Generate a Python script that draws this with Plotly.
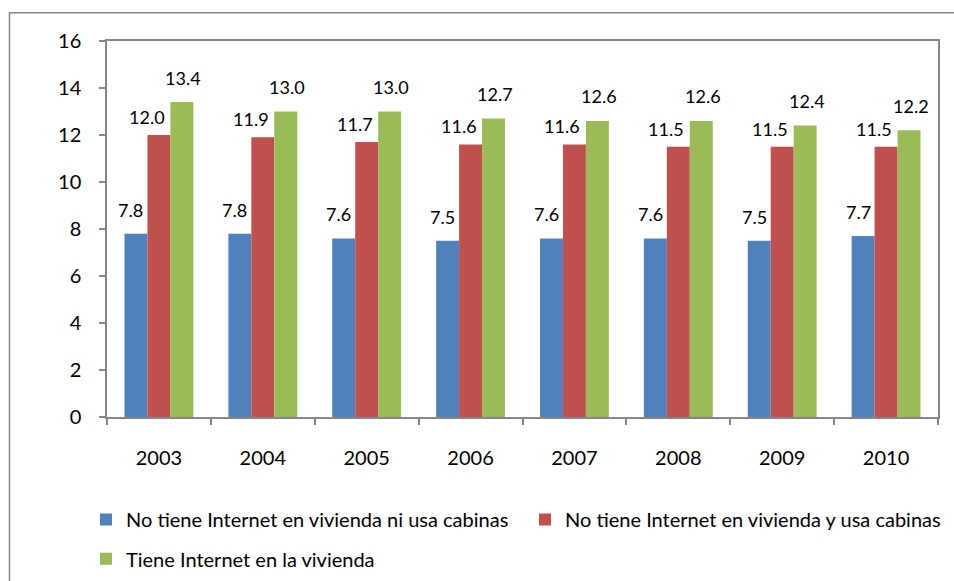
import plotly.graph_objects as go

# Data: share of population by internet access, 2003-2010
years = ["2003", "2004", "2005", "2006", "2007", "2008", "2009", "2010"]
sin_internet = [7.8, 7.8, 7.6, 7.5, 7.6, 7.6, 7.5, 7.7]
usa_cabinas = [12.0, 11.9, 11.7, 11.6, 11.6, 11.5, 11.5, 11.5]
con_internet = [13.4, 13.0, 13.0, 12.7, 12.6, 12.6, 12.4, 12.2]
series_names = [
    "No tiene Internet en vivienda ni usa cabinas",
    "No tiene Internet en vivienda y usa cabinas",
    "Tiene Internet en la vivienda",
]
y_ticks = [0, 2, 4, 6, 8, 10, 12, 14, 16]

colors = ["#4F81BD", "#C0504D", "#9BBB59"]
FONT = "Lato"
GRAY = "#868686"

W, H = 954, 581
L, R, T, B = 107, 16, 41, 164
PW, PH = W - L - R, H - T - B


def px_x(px):
    return (px - L) / PW


def px_y(py):
    return (H - B - py) / PH


fig = go.Figure()
series = [sin_internet, usa_cabinas, con_internet]
legends = ["legend", "legend2", "legend3"]
for name, vals, col, lg in zip(series_names, series, colors, legends):
    fig.add_trace(go.Bar(
        x=years, y=vals, name=name, marker=dict(color=col, line=dict(width=0)),
        legend=lg, showlegend=True,
    ))

# value labels above each bar (offsets: bar position within group + label nudge)
label_shift_x = [-28, -12, 24.5]
label_shift_y = [24, 18, 24.5]
annotations = []
for vals, dx, dy in zip(series, label_shift_x, label_shift_y):
    for i, v in enumerate(vals):
        annotations.append(dict(
            x=i, y=v, xref="x", yref="y", text=f"{v:.1f}", showarrow=False,
            xshift=dx, yshift=dy, yanchor="middle", xanchor="center",
            font=dict(family=FONT, size=18, color="#000000"),
        ))

annotations.append(dict(
    x=px_x(484.5), y=px_y(3), xref="paper", yref="paper", text="<b>años)</b>",
    showarrow=False, xanchor="center", yanchor="bottom",
    font=dict(family=FONT, size=21, color="#000000"),
))

legend_font = dict(family=FONT, size=20, color="#000000")


def legend_box(px, py):
    # one legend entry placed at a pixel position of the page
    return dict(
        orientation="h", xref="container", yref="container",
        x=px / W, xanchor="left", y=1 - py / H, yanchor="middle",
        font=legend_font, bgcolor="rgba(0,0,0,0)", visible=True,
    )


fig.update_layout(
    width=W, height=H,
    margin=dict(l=L, r=R, t=T, b=B, pad=0, autoexpand=False),
    paper_bgcolor="white", plot_bgcolor="white",
    showlegend=True,
    barmode="group", bargap=0.337, bargroupgap=0,
    font=dict(family=FONT, size=18, color="#000000"),
    annotations=annotations,
    legend=legend_box(86, 519.5),
    legend2=legend_box(525, 519.5),
    legend3=legend_box(86, 558.8),
    shapes=[dict(
        type="rect", xref="paper", yref="paper",
        x0=px_x(9.5), x1=px_x(1100), y0=px_y(800), y1=px_y(12.7),
        line=dict(color=GRAY, width=1.5), fillcolor="rgba(0,0,0,0)", layer="below",
    )],
)

fig.update_xaxes(
    type="category", categoryorder="array", categoryarray=years,
    range=[-0.5, len(years) - 0.5], autorange=False,
    showline=True, linecolor=GRAY, linewidth=1.5, mirror=True,
    ticks="outside", tickson="boundaries", ticklen=6, tickcolor=GRAY, tickwidth=1.5,
    showgrid=False, tickfont=dict(family=FONT, size=20, color="#000000"),
    ticklabelstandoff=22,
)
fig.update_yaxes(
    range=[0, 16], autorange=False, tickvals=y_ticks, showline=True, linecolor=GRAY,
    linewidth=1.5, mirror=True, ticks="outside", ticklen=6, tickcolor=GRAY, tickwidth=1.5,
    showgrid=False, zeroline=False, tickfont=dict(family=FONT, size=20, color="#000000"),
    ticklabelstandoff=14,
)

fig.write_html("out.html")
